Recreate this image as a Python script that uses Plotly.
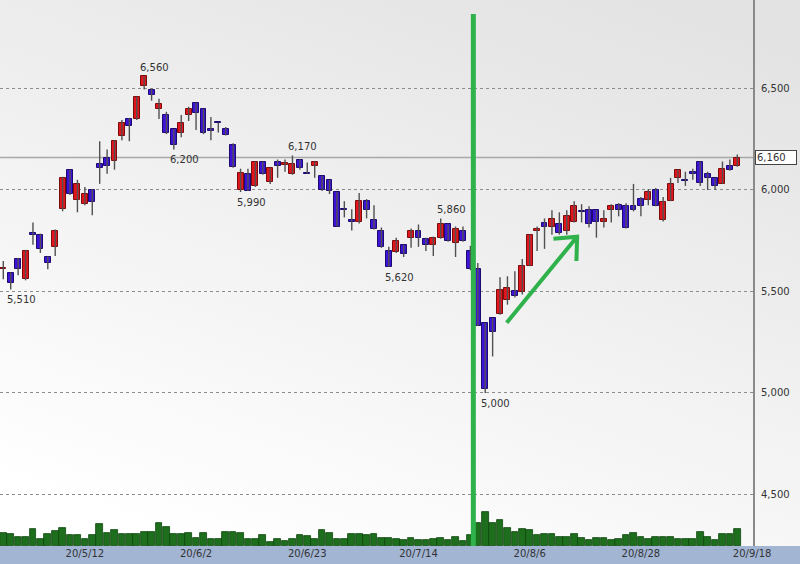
import base64
import plotly.graph_objects as go

# ---------------- data ----------------
opens = [5610, 5590, 5660, 5560, 5780, 5780, 5670, 5720, 5905, 6100,
         5950, 5930, 6000, 6130, 6160, 6145, 6265, 6350, 6350, 6510,
         6495, 6400, 6370, 6300, 6280, 6370, 6430, 6400, 6300, 6330,
         6300, 6220, 6000, 6080, 6020, 6140, 6040, 6140, 6125, 6080,
         6150, 6080, 6120, 6070, 6050, 5990, 5900, 5850, 5840, 5945,
         5850, 5800, 5700, 5695, 5730, 5765, 5800, 5760, 5730, 5765,
         5830, 5740, 5800, 5700, 5610, 5345, 5370, 5390, 5460, 5500,
         5495, 5625, 5800, 5835, 5820, 5830, 5800, 5840, 5895, 5900,
         5900, 5840, 5900, 5925, 5920, 5920, 5955, 5950, 6000, 5850,
         5945, 6060, 6050, 6090, 6140, 6080, 6060, 6030, 6120, 6120]
highs = [5650, 5595, 5665, 5705, 5840, 5785, 5672, 5805, 6065, 6100,
         6050, 6015, 6005, 6240, 6200, 6245, 6345, 6355, 6460, 6560,
         6500, 6450, 6385, 6300, 6370, 6410, 6430, 6400, 6360, 6332,
         6310, 6230, 6105, 6105, 6140, 6140, 6110, 6150, 6150, 6170,
         6150, 6135, 6140, 6070, 6050, 5990, 5945, 5905, 5985, 5955,
         5925, 5815, 5720, 5765, 5730, 5810, 5830, 5765, 5770, 5860,
         5830, 5820, 5820, 5725, 5640, 5345, 5370, 5570, 5575, 5600,
         5660, 5780, 5820, 5860, 5900, 5890, 5900, 5945, 5930, 5920,
         5900, 5900, 5930, 5935, 5935, 6030, 5965, 6005, 6010, 5965,
         6060, 6100, 6090, 6105, 6140, 6090, 6060, 6140, 6150, 6175]
lows = [5560, 5510, 5580, 5555, 5730, 5690, 5610, 5675, 5895, 5975,
        5890, 5925, 5875, 6030, 6080, 6100, 6245, 6240, 6345, 6495,
        6440, 6350, 6275, 6200, 6260, 6340, 6295, 6275, 6245, 6283,
        6268, 6110, 5990, 5995, 6015, 6075, 6030, 6060, 6090, 6075,
        6100, 6080, 6060, 5995, 5980, 5820, 5865, 5800, 5835, 5860,
        5805, 5715, 5620, 5690, 5670, 5715, 5720, 5700, 5675, 5760,
        5745, 5670, 5745, 5605, 5330, 5000, 5180, 5385, 5435, 5470,
        5485, 5625, 5700, 5710, 5780, 5780, 5780, 5840, 5840, 5815,
        5765, 5815, 5840, 5870, 5810, 5895, 5870, 5925, 5920, 5845,
        5945, 6035, 6020, 6050, 6020, 6000, 6000, 6030, 6095, 6115]
closes = [5615, 5540, 5610, 5700, 5780, 5710, 5640, 5800, 6060, 5980,
          6030, 5980, 5940, 6110, 6120, 6240, 6330, 6315, 6460, 6560,
          6470, 6425, 6280, 6220, 6330, 6400, 6380, 6280, 6290, 6330,
          6270, 6115, 6085, 5995, 6140, 6080, 6110, 6120, 6130, 6130,
          6110, 6080, 6140, 6000, 5995, 5820, 5900, 5840, 5945, 5900,
          5810, 5720, 5620, 5750, 5685, 5800, 5765, 5730, 5765, 5830,
          5750, 5810, 5750, 5610, 5330, 5020, 5300, 5505, 5515, 5480,
          5625, 5780, 5805, 5820, 5855, 5790, 5870, 5920, 5890, 5830,
          5840, 5855, 5920, 5900, 5815, 5900, 5920, 5990, 5920, 5940,
          6030, 6100, 6045, 6080, 6035, 6060, 6020, 6105, 6100, 6160]
volumes = [400, 350, 270, 270, 520, 220, 350, 450, 550, 320,
           320, 220, 320, 650, 400, 470, 350, 350, 350, 430,
           430, 680, 570, 350, 350, 400, 250, 380, 220, 220,
           430, 430, 380, 220, 220, 320, 130, 220, 150, 220,
           320, 300, 220, 480, 380, 220, 220, 350, 350, 320,
           350, 250, 250, 220, 180, 250, 180, 180, 220, 250,
           180, 270, 150, 320, 680, 1030, 680, 780, 530, 430,
           520, 470, 320, 350, 370, 280, 280, 370, 230, 180,
           230, 250, 180, 200, 330, 380, 280, 200, 270, 270,
           270, 220, 220, 220, 430, 280, 180, 350, 350, 500]

tick_positions = [11, 26, 41, 56, 71, 86, 101]
tick_labels = ["20/5/12", "20/6/2", "20/6/23", "20/7/14", "20/8/6", "20/8/28", "20/9/18"]
price_ticks = [4500, 5000, 5500, 6000, 6500]

# labelled extremes: (candle index, "high"/"low")
extremes = [(1, "low"), (19, "high"), (23, "low"), (32, "low"),
            (39, "high"), (52, "low"), (59, "high"), (65, "low")]

event_index = 63.4                  # vertical green marker between two candles
arrow_tail = (67.9, 5346)           # green arrow (index, price)
arrow_tip = (77.4, 5770)
arrow_arm_left = (74.2, 5760)       # open chevron arms of the arrow head
arrow_arm_down = (77.3, 5650)

# ---------------- styling ----------------
FONT = "DejaVu Sans"
UP_FILL, UP_LINE = "#e3141c", "#7a0c0c"
DN_FILL, DN_LINE = "#3e12d8", "#1c0a70"
WICK = "#505050"
GREEN = "#2fb24c"
VOL_FILL, VOL_LINE = "#1d6e1d", "#0c460c"

W, H = 800, 564
L_M, R_M, T_M, B_M = 0, 47, 0, 18
plot_w, plot_h = W - L_M - R_M, H - T_M - B_M

n = len(closes)
idx = list(range(n))

fig = go.Figure()

# wicks
wx, wy = [], []
for i in idx:
    wx += [i, i, None]
    wy += [lows[i], highs[i], None]
fig.add_trace(go.Scatter(x=wx, y=wy, mode="lines", line=dict(color=WICK, width=1.4),
                         hoverinfo="skip", showlegend=False))

# bodies
min_body = 6
for up in (True, False):
    sel = [i for i in idx if (closes[i] > opens[i]) == up]
    fig.add_trace(go.Bar(
        x=sel,
        base=[min(opens[i], closes[i]) for i in sel],
        y=[max(abs(closes[i] - opens[i]), min_body) for i in sel],
        width=0.8,
        marker=dict(color=UP_FILL if up else DN_FILL,
                    line=dict(color=UP_LINE if up else DN_LINE, width=1)),
        showlegend=False, hoverinfo="skip"))

# volume
fig.add_trace(go.Bar(x=idx, y=volumes, yaxis="y2", width=0.9,
                     marker=dict(color=VOL_FILL, line=dict(color=VOL_LINE, width=0.8)),
                     showlegend=False, hoverinfo="skip"))

# background gradient
svg = ('<svg xmlns="http://www.w3.org/2000/svg" width="800" height="564" preserveAspectRatio="none">'
       '<defs><linearGradient id="g" x1="0.8" y1="0" x2="0.3" y2="1">'
       '<stop offset="0" stop-color="#e3e3e3"/><stop offset="0.85" stop-color="#fbfbfb"/>'
       '<stop offset="1" stop-color="#ffffff"/></linearGradient></defs>'
       '<rect width="800" height="564" fill="url(#g)"/></svg>')
src = "data:image/svg+xml;base64," + base64.b64encode(svg.encode()).decode()

annotations = []
for i, kind in extremes:
    v = highs[i] if kind == "high" else lows[i]
    annotations.append(dict(
        x=i, y=v, xref="x", yref="y", text=f"{v:,}", showarrow=False,
        xanchor="left", yanchor="bottom" if kind == "high" else "top",
        xshift=-6, yshift=1 if kind == "high" else -3,
        font=dict(family=FONT, size=10, color="#333333")))

# last price box
annotations.append(dict(
    x=1, y=closes[-1], xref="paper", yref="y", text=f"{closes[-1]:,}", showarrow=False,
    xanchor="left", yanchor="middle", xshift=2, width=38, align="left",
    bgcolor="white", bordercolor="#444444", borderwidth=1, borderpad=1,
    font=dict(family=FONT, size=10, color="#333333")))

arrow_path = (f"M {arrow_tail[0]},{arrow_tail[1]} L {arrow_tip[0]},{arrow_tip[1]} "
              f"M {arrow_arm_left[0]},{arrow_arm_left[1]} L {arrow_tip[0]},{arrow_tip[1]} "
              f"L {arrow_arm_down[0]},{arrow_arm_down[1]}")

shapes = [
    # bottom date band
    dict(type="rect", xref="paper", yref="paper", x0=-0.01, x1=W / plot_w + 0.01,
         y0=-B_M / plot_h - 0.01, y1=0, fillcolor="#a2b5d3", line=dict(width=0), layer="below"),
    # last price line
    dict(type="line", xref="paper", yref="y", x0=0, x1=1.004, y0=closes[-1], y1=closes[-1],
         line=dict(color="#a8a8a8", width=1.5), layer="below"),
    # event vertical line
    dict(type="line", xref="x", yref="paper", x0=event_index, x1=event_index,
         y0=0, y1=1 - 14 / plot_h, line=dict(color=GREEN, width=5), layer="above"),
    # green arrow
    dict(type="path", xref="x", yref="y", path=arrow_path,
         line=dict(color=GREEN, width=4), layer="above"),
]

x_left = -(3.3 / 7.414)
x_right = x_left + plot_w / 7.414

fig.update_layout(
    width=W, height=H,
    margin=dict(l=L_M, r=R_M, t=T_M, b=B_M, pad=0),
    paper_bgcolor="white", plot_bgcolor="rgba(0,0,0,0)",
    barmode="overlay", bargap=0,
    showlegend=False,
    font=dict(family=FONT, size=10, color="#333333"),
    images=[dict(source=src, xref="paper", yref="paper", x=0, y=1,
                 sizex=W / plot_w, sizey=H / plot_h, xanchor="left", yanchor="top",
                 sizing="stretch", layer="below")],
    xaxis=dict(range=[x_left, x_right], tickvals=tick_positions, ticktext=tick_labels,
               showgrid=False, zeroline=False, showline=False, ticks="",
               tickfont=dict(family=FONT, size=10, color="#333333")),
    yaxis=dict(range=[4246, 6936], side="right", tickvals=price_ticks, tickformat=",d",
               showgrid=True, gridcolor="#8c8c8c", griddash="dot", gridwidth=1,
               zeroline=False, showline=True, linecolor="#8a8a8a", linewidth=2,
               ticks="", ticklabelstandoff=4,
               tickfont=dict(family=FONT, size=10, color="#333333")),
    yaxis2=dict(overlaying="y", range=[0, 16380], visible=False, showgrid=False),
    annotations=annotations,
    shapes=shapes,
)

fig.write_html("out.html", config={"displayModeBar": False},
               post_script="document.body.style.margin='0';document.body.style.overflow='hidden';")
